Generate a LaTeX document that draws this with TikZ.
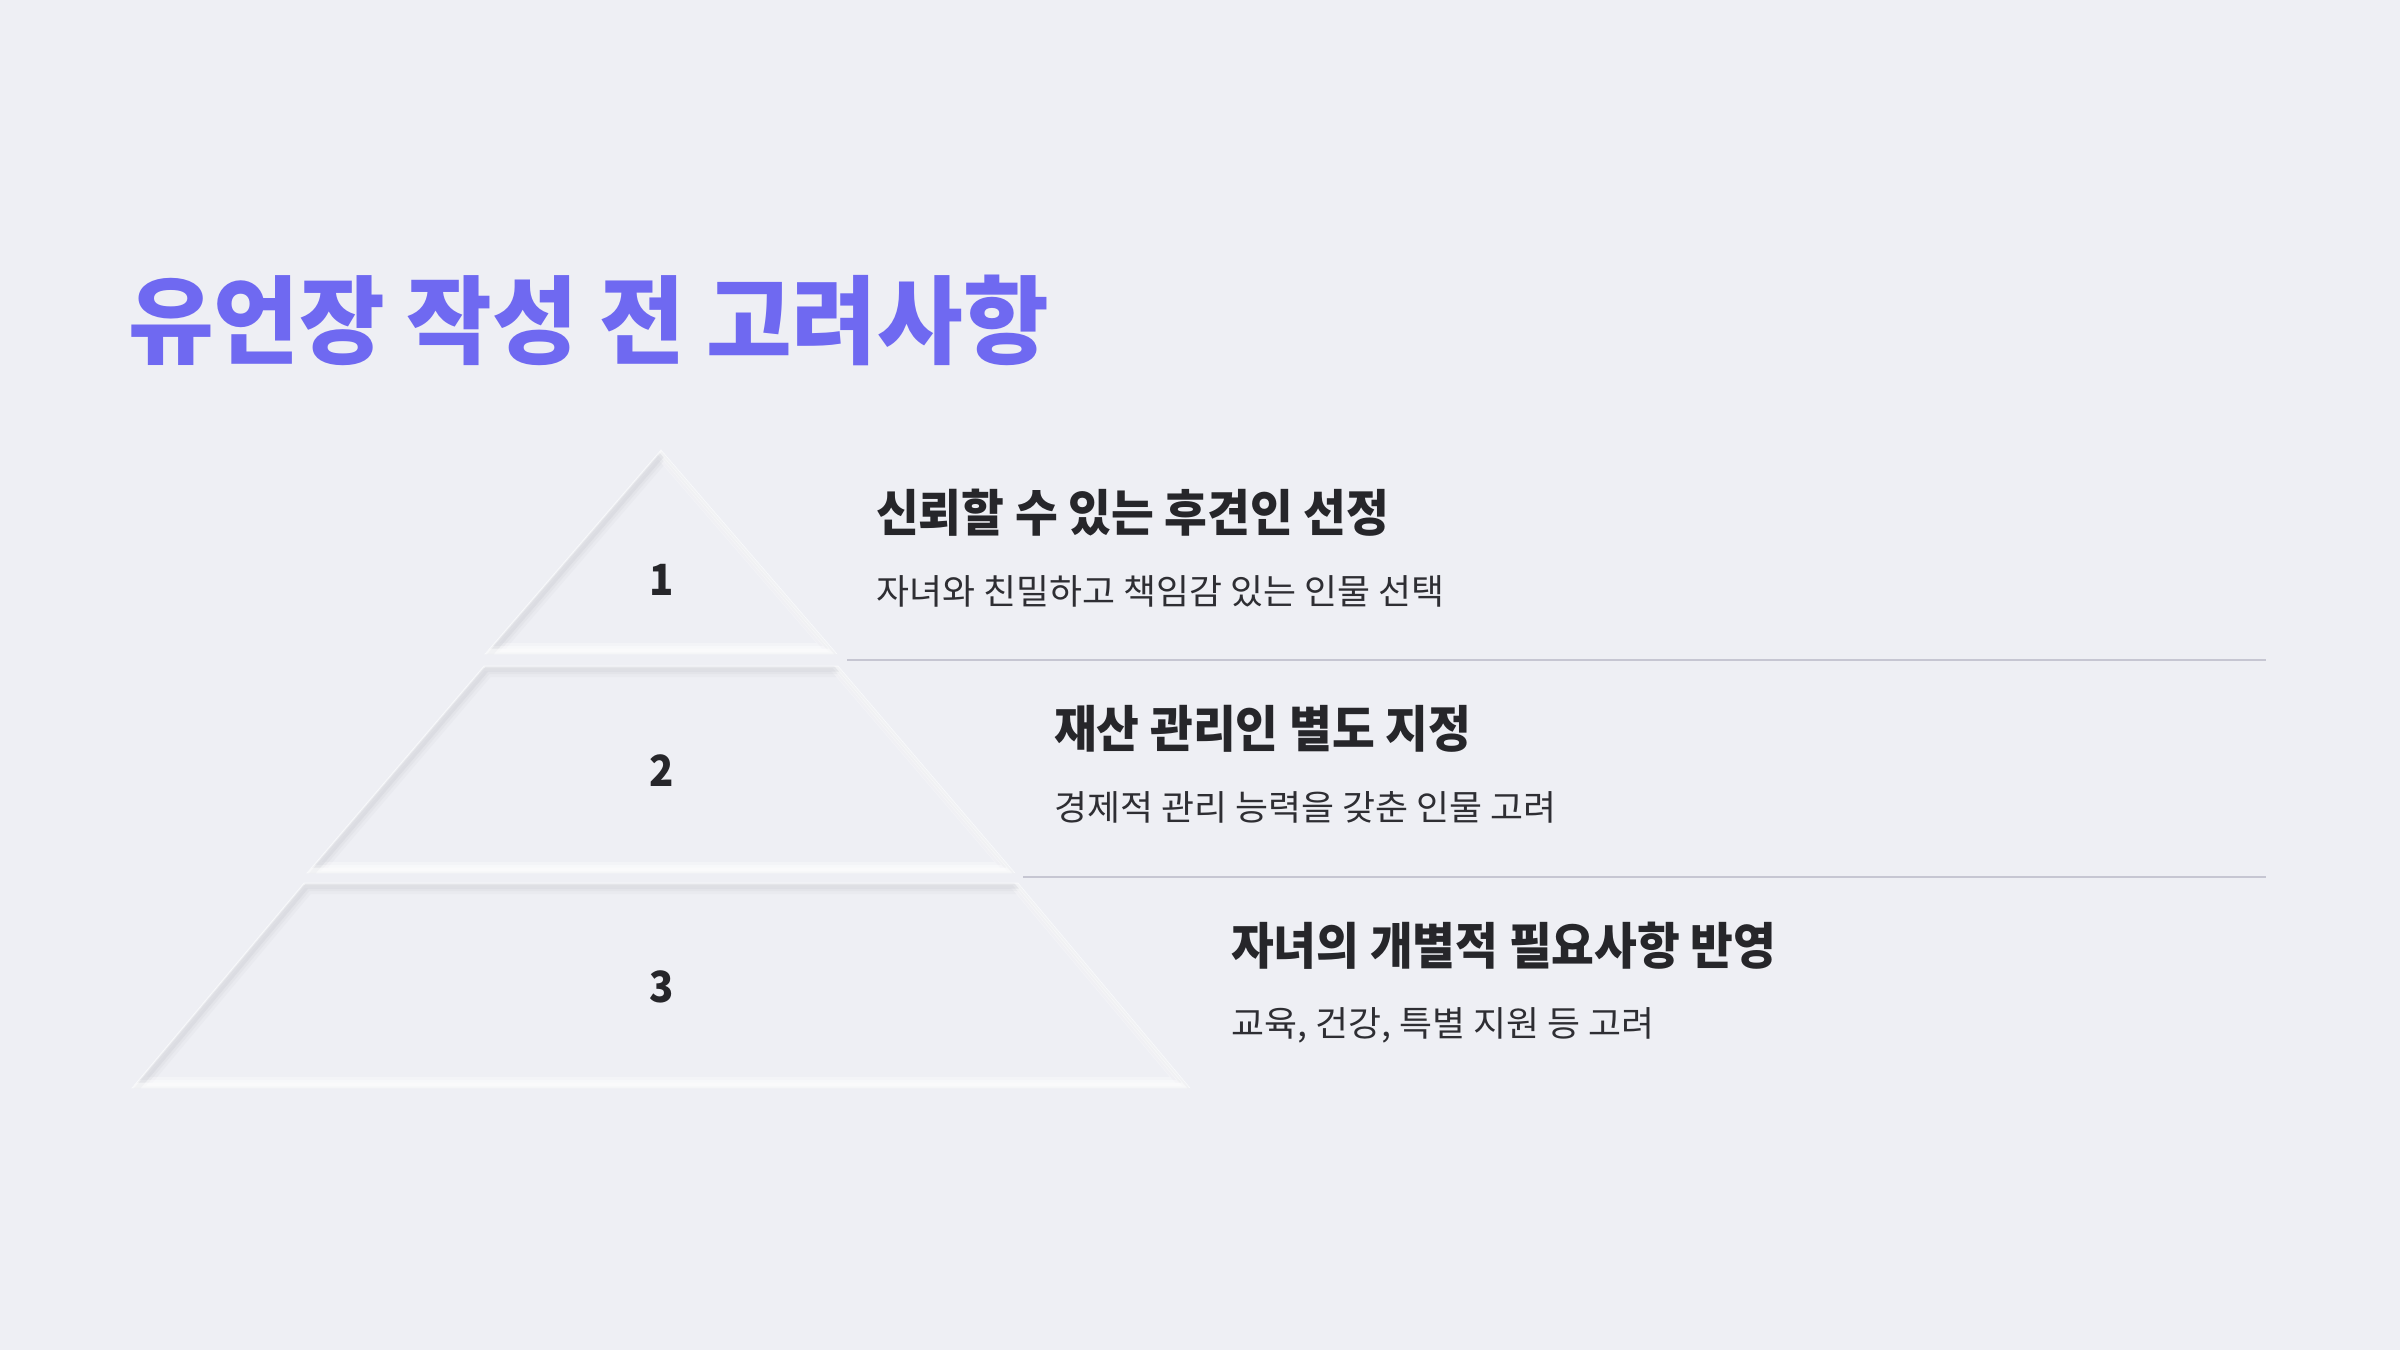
\documentclass[tikz,border=0pt]{standalone}
\usepackage{fontspec}
\newfontfamily\krtitle[FakeStretch=0.97]{Noto Sans CJK KR}
\newfontfamily\krhead[FakeStretch=0.93]{Noto Sans CJK KR}
\newfontfamily\krsub[FakeStretch=1.025]{Noto Sans CJK KR}
\definecolor{bg}{HTML}{EEEFF4}
\definecolor{titlec}{HTML}{6F69F1}
\definecolor{textc}{HTML}{26262A}
\definecolor{subc}{HTML}{2E2E33}
\definecolor{linec}{HTML}{C6C6D2}
\definecolor{shadowc}{HTML}{C9CAD2}
\newcommand\pyrtier[4]{%
  \fill[bg] (661-#3,#1) -- (661+#3,#1) -- (661+#4,#2) -- (661-#4,#2) -- cycle;
  \begin{scope}
    \clip (661-#3,#1) -- (661+#3,#1) -- (661+#4,#2) -- (661-#4,#2) -- cycle;
    \foreach \w/\o in {16/0.12,10/0.18,5/0.3}{
      \draw[line width=\w pt, shadowc, opacity=\o, shift={(3,3)}]
        (661-#3,#1) -- (661+#3,#1) -- (661+#4,#2) -- (661-#4,#2) -- cycle;
      \draw[line width=\w pt, white, opacity=\o+0.2, shift={(-3,-3)}]
        (661-#3,#1) -- (661+#3,#1) -- (661+#4,#2) -- (661-#4,#2) -- cycle;
    }
  \end{scope}
  \draw[line width=0.8pt, white!60!bg] (661-#3,#1) -- (661+#3,#1) -- (661+#4,#2) -- (661-#4,#2) -- cycle;
}
\tikzset{
  titlestyle/.style={inner sep=0pt, anchor=base west, text=titlec, font=\krtitle\bfseries\fontsize{96}{110}\selectfont},
  headstyle/.style={inner sep=0pt, anchor=base west, text=textc, font=\krhead\bfseries\fontsize{50}{60}\selectfont},
  substyle/.style={inner sep=0pt, anchor=base west, text=subc, font=\krsub\fontsize{35}{42}\selectfont},
  numstyle/.style={inner sep=0pt, anchor=base, text=textc, font=\krhead\bfseries\fontsize{43}{50}\selectfont},
  divider/.style={draw=linec, line width=2.2pt},
}
\begin{document}
\begin{tikzpicture}[x=1pt,y=-1pt]
\fill[bg] (0,0) rectangle (2400,1350);
\useasboundingbox (0,0) rectangle (2400,1350);

\node[titlestyle] (title) at (128,356) {유언장 작성 전 고려사항};

% pyramid tiers
\pyrtier{450}{654}{0}{176}
\pyrtier{666}{873}{177}{354}
\pyrtier{883}{1088}{357}{529}

\node[numstyle] (n1) at (662,595) {1};
\node[numstyle] (n2) at (662,786) {2};
\node[numstyle] (n3) at (662,1002) {3};

% dividers
\coordinate (d1a) at (847,660);
\coordinate (d1b) at (2266,660);
\coordinate (d2a) at (1023,877);
\coordinate (d2b) at (2266,877);
\draw[divider] (d1a) -- (d1b);
\draw[divider] (d2a) -- (d2b);

% texts
\node[headstyle] (h1) at (876,531) {신뢰할 수 있는 후견인 선정};
\node[substyle] (s1) at (876,604) {자녀와 친밀하고 책임감 있는 인물 선택};
\node[headstyle] (h2) at (1054,747) {재산 관리인 별도 지정};
\node[substyle] (s2) at (1054,820) {경제적 관리 능력을 갖춘 인물 고려};
\node[headstyle] (h3) at (1231,964) {자녀의 개별적 필요사항 반영};
\node[substyle] (s3) at (1231,1036) {교육, 건강, 특별 지원 등 고려};
\end{tikzpicture}
\end{document}
